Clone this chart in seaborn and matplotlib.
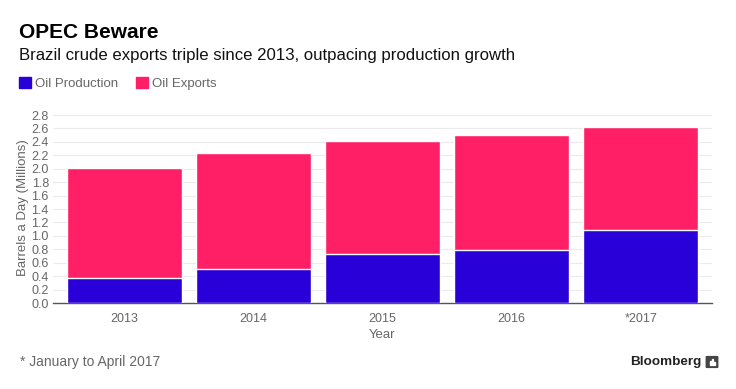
import matplotlib
matplotlib.use("Agg")
import matplotlib.pyplot as plt
import seaborn as sns
import pandas as pd
from matplotlib.patches import Rectangle, FancyBboxPatch

# Data
years = ["2013", "2014", "2015", "2016", "*2017"]
oil_exports_total = [2.01, 2.24, 2.42, 2.51, 2.62]   # pink bar height
oil_production = [0.37, 0.51, 0.73, 0.79, 1.09]      # blue bar height
y_ticks = [round(0.2 * i, 1) for i in range(15)]

blue = "#2A00D8"
pink = "#FF1F66"
grey = "#666666"

df = pd.DataFrame({"year": years, "exports": oil_exports_total,
                   "production": oil_production})

sns.set_style("white")
plt.rcParams["font.family"] = ["Liberation Sans", "DejaVu Sans"]

W, H = 736, 389
fig = plt.figure(figsize=(W / 100, H / 100), dpi=100)
ax = fig.add_axes([0.072, 0.221, 0.895, 0.491])

sns.barplot(data=df, x="year", y="exports", order=years, color=pink,
            saturation=1, width=0.89, ax=ax, zorder=2)
sns.barplot(data=df, x="year", y="production", order=years, color=blue,
            saturation=1, width=0.89, ax=ax, zorder=3)

ax.set_xlim(-0.55, 4.55)
ax.set_ylim(0, 2.845)
ax.set_yticks(y_ticks)
ax.set_yticklabels([f"{t:.1f}" for t in y_ticks])
ax.grid(axis="y", color="#ebebeb", linewidth=0.8, zorder=0)
ax.set_axisbelow(True)
for s in ["top", "right", "left"]:
    ax.spines[s].set_visible(False)
ax.spines["bottom"].set_color("#555555")
ax.spines["bottom"].set_linewidth(1.0)
ax.tick_params(axis="both", colors=grey, labelsize=9, length=0, pad=3)
ax.tick_params(axis="x", length=3, color="#555555", pad=4)
ax.set_xlabel("Year", color=grey, fontsize=9.5, labelpad=3)
ax.set_ylabel("Barrels a Day (Millions)", color=grey, fontsize=9.5, labelpad=2)

def fx(px):
    return px / W

def fy(py):
    return 1 - py / H

# Titles
fig.text(fx(19), fy(38), "OPEC Beware", fontsize=15, fontweight="bold",
         color="black", va="baseline")
fig.text(fx(19), fy(60),
         "Brazil crude exports triple since 2013, outpacing production growth",
         fontsize=12.1, color="#111111", va="baseline")

# Legend
fig.patches.append(Rectangle((fx(19), fy(88)), 12 / W, 11 / H,
                             transform=fig.transFigure, color=blue))
fig.text(fx(35), fy(87), "Oil Production", fontsize=9.5,
         color=grey, va="baseline")
fig.patches.append(Rectangle((fx(136), fy(88)), 12 / W, 11 / H,
                             transform=fig.transFigure, color=pink))
fig.text(fx(152), fy(87), "Oil Exports", fontsize=9.5,
         color=grey, va="baseline")

# Footer
fig.text(fx(20), fy(362), "* January to April 2017", fontsize=10,
         color=grey, va="center")
fig.text(fx(701), fy(362), "Bloomberg", fontsize=9.7, fontweight="bold",
         color="#222222", va="center", ha="right")
fig.patches.append(FancyBboxPatch((fx(707), fy(367)), 10 / W, 10 / H,
                                  boxstyle="round,pad=0.001",
                                  transform=fig.transFigure, color="#444444"))
for bx, bh in [(709.5, 4), (711.7, 6), (713.9, 3)]:
    fig.patches.append(Rectangle((fx(bx), fy(365)), 1.2 / W, bh / H,
                                 transform=fig.transFigure, color="white"))

fig.savefig("out.png", dpi=100)
